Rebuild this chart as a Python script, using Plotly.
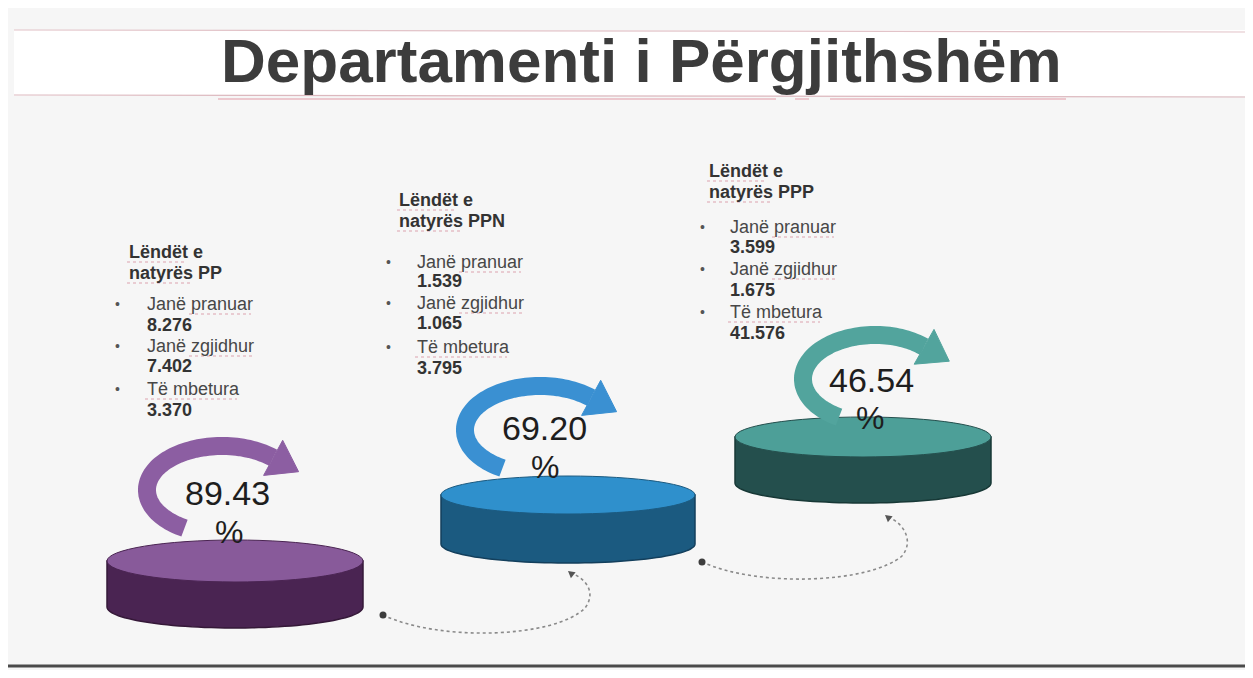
import numpy as np
import plotly.graph_objects as go

# ---------------- data ----------------
title_text = "Departamenti i Përgjithshëm"
categories = ["PP", "PPN", "PPP"]
header_prefix = "Lëndët e"
header_base = "natyrës"
label_pranuar = "Janë pranuar"
label_zgjidhur = "Janë zgjidhur"
label_mbetura = "Të mbetura"
pranuar = [8276, 1539, 3599]
zgjidhur = [7402, 1065, 1675]
mbetura = [3370, 3795, 41576]
perqindja = [89.43, 69.20, 46.54]

# ---------------- styles / layout ----------------
W, H = 1253, 678
OFF = 8  # page body margin of the html page
top_colors = ["#885a9a", "#2f90cc", "#4d9f98"]
side_colors = ["#4a2452", "#1b5a80", "#244f4d"]
edge_colors = ["#351838", "#133f5c", "#173836"]
arrow_colors = ["#8c5ea2", "#3a90d2", "#52a49d"]
SQUIG = "#dba2ad"

# cylinder geometry: cx, rx, top cy, ry, bottom cy
cyl = [(235, 128, 561, 21, 607), (568, 127, 495, 19, 544), (863, 128, 437, 20, 483)]
# curved arrows: ellipse centre and radii
arr = [(222, 490, 75, 44), (540, 430, 75, 44), (875, 379, 72, 44)]
# text blocks: header x, header ys, bullet x, item x, item ys
blocks = [
    (127, [252, 273], 117, 145, [304, 325, 346, 366, 389, 410]),
    (397, [200, 221], 388, 415, [262, 281, 303, 323, 347, 368]),
    (707, [171, 192], 702, 728, [227, 247, 269, 290, 312, 333]),
]
pct_pos = [(227, 493, 229, 532), (544, 428, 545, 467), (871, 380, 870, 418)]
FONT = "Liberation Sans, Arial, sans-serif"


def fmt(v):
    return f"{v:,}".replace(",", ".")


def pts_to_path(pts, close=False):
    s = "M " + " L ".join(f"{x:.1f},{y:.1f}" for x, y in pts)
    return s + (" Z" if close else "")


fig = go.Figure()
fig.add_trace(go.Scatter(x=[OFF, W], y=[OFF, H], mode="markers",
                         marker=dict(opacity=0), hoverinfo="skip", showlegend=False))

shapes = []
annotations = []


def squiggle(x0, x1, y):
    shapes.append(dict(type="line", x0=x0, x1=x1, y0=y, y1=y,
                       line=dict(color=SQUIG, width=1.2, dash="dot")))


# title band
shapes.append(dict(type="rect", x0=14, x1=W, y0=30, y1=96, fillcolor="white",
                   line=dict(width=0), layer="below"))
shapes.append(dict(type="line", x0=14, x1=W, y0=30, y1=32, line=dict(color="#e2c3c8", width=1.2)))
shapes.append(dict(type="line", x0=14, x1=W, y0=95, y1=97, line=dict(color="#dcb8be", width=1.2)))
for x0, x1 in [(218, 776), (795, 809), (830, 1066)]:
    shapes.append(dict(type="line", x0=x0, x1=x1, y0=99, y1=99, line=dict(color="#e39aa6", width=1)))
annotations.append(dict(x=641, y=60, text=f"<b>{title_text}</b>", showarrow=False,
                        font=dict(family=FONT, size=62, color="#3c3c3c"),
                        xanchor="center", yanchor="middle"))

# bottom rule
shapes.append(dict(type="line", x0=7, x1=W, y0=666, y1=666, line=dict(color="#4a4a4a", width=3)))

for i, cat in enumerate(categories):
    cx, rx, ty, ry, by = cyl[i]
    th = np.linspace(np.pi, 0, 60)
    bottom = [(cx + rx * np.cos(t), by + ry * np.sin(t)) for t in th]
    side = [(cx - rx, ty)] + bottom + [(cx + rx, ty)]
    shapes.append(dict(type="path", path=pts_to_path(side, True), fillcolor=side_colors[i],
                       line=dict(color=edge_colors[i], width=1.5)))
    shapes.append(dict(type="circle", x0=cx - rx, x1=cx + rx, y0=ty - ry, y1=ty + ry,
                       fillcolor=top_colors[i], line=dict(color=side_colors[i], width=1)))

    # curved arrow
    ax, ay, arx, ary = arr[i]
    th = np.radians(np.linspace(120, 313, 80))
    band = [(ax + arx * np.cos(t), ay + ary * np.sin(t)) for t in th]
    shapes.append(dict(type="path", path=pts_to_path(band), line=dict(color=arrow_colors[i], width=18)))
    te = th[-1]
    ex, ey = band[-1]
    tx, ty2 = -arx * np.sin(te), ary * np.cos(te)
    n = np.hypot(tx, ty2)
    tx, ty2 = tx / n, ty2 / n
    px, py = -ty2, tx
    head = [(ex + px * 20, ey + py * 20), (ex + tx * 29, ey + ty2 * 29), (ex - px * 20, ey - py * 20)]
    shapes.append(dict(type="path", path=pts_to_path(head, True), fillcolor=arrow_colors[i],
                       line=dict(color=arrow_colors[i], width=1)))

    # percentage
    x1p, y1p, x2p, y2p = pct_pos[i]
    annotations.append(dict(x=x1p, y=y1p, text=f"{perqindja[i]:.2f}", showarrow=False,
                            font=dict(family=FONT, size=34, color="#1e1e1e")))
    annotations.append(dict(x=x2p, y=y2p, text="%", showarrow=False,
                            font=dict(family=FONT, size=32, color="#1e1e1e")))

    # text block
    hx, hys, bx, ix, iys = blocks[i]
    hfont = dict(family=FONT, size=18, color="#333333")
    annotations.append(dict(x=hx, y=hys[0], text=f"<b>{header_prefix}</b>", showarrow=False,
                            xanchor="left", font=hfont))
    annotations.append(dict(x=hx, y=hys[1], text=f"<b>{header_base} {cat}</b>", showarrow=False,
                            xanchor="left", font=hfont))
    squiggle(hx, hx + 59, hys[0] + 10)
    squiggle(hx, hx + 64, hys[1] + 10)
    items = [(label_pranuar, False), (fmt(pranuar[i]), True),
             (label_zgjidhur, False), (fmt(zgjidhur[i]), True),
             (label_mbetura, False), (fmt(mbetura[i]), True)]
    for (txt, bold), yy in zip(items, iys):
        annotations.append(dict(x=ix, y=yy, text=f"<b>{txt}</b>" if bold else txt, showarrow=False,
                                xanchor="left",
                                font=dict(family=FONT, size=18,
                                          color="#333333" if bold else "#474747")))
        if not bold:
            annotations.append(dict(x=bx, y=yy, text="•", showarrow=False, xanchor="center",
                                    font=dict(family=FONT, size=14, color="#555555")))
    squiggle(ix + 44, ix + 106, iys[0] + 10)
    squiggle(ix + 44, ix + 107, iys[2] + 10)
    squiggle(ix, ix + 92, iys[4] + 10)

# dotted connectors
connectors = [
    ("M 383,615 C 440,642 555,638 585,608 C 597,592 585,578 571,573", (383, 615), (568, 571), (-0.75, -0.6)),
    ("M 702,562 C 760,588 870,583 902,556 C 915,540 902,522 888,517", (702, 562), (885, 515), (-0.75, -0.6)),
]
for path, dot, tip, d in connectors:
    shapes.append(dict(type="path", path=path, line=dict(color="#8a8a8a", width=1.6, dash="dot")))
    shapes.append(dict(type="circle", x0=dot[0] - 3.5, x1=dot[0] + 3.5, y0=dot[1] - 3.5, y1=dot[1] + 3.5,
                       fillcolor="#3d3d3d", line=dict(width=0)))
    dx, dy = d
    px, py = -dy, dx
    hx0, hy0 = tip[0] - dx * 7, tip[1] - dy * 7
    tri = [tip, (hx0 + px * 4, hy0 + py * 4), (hx0 - px * 4, hy0 - py * 4)]
    shapes.append(dict(type="path", path=pts_to_path(tri, True), fillcolor="#555555",
                       line=dict(width=0)))

fig.update_layout(
    width=W - 2 * OFF, height=H - 2 * OFF,
    margin=dict(l=0, r=0, t=0, b=0),
    paper_bgcolor="#f6f6f6", plot_bgcolor="#f6f6f6",
    xaxis=dict(range=[OFF, W - OFF], visible=False, fixedrange=True),
    yaxis=dict(range=[H - OFF, OFF], visible=False, fixedrange=True),
    shapes=shapes, annotations=annotations, showlegend=False,
)
fig.write_html("out.html")
